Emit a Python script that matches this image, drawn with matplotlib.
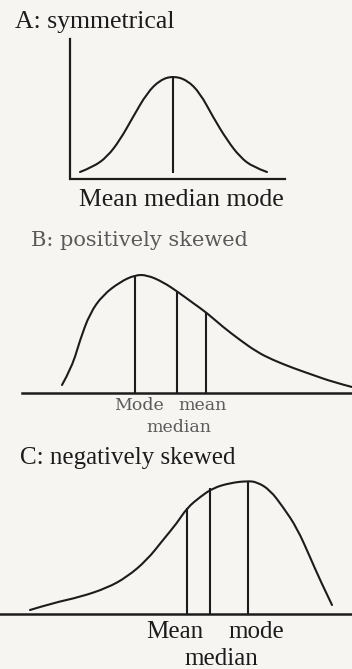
"""
Three sketches of a distribution: symmetrical, positively skewed, negatively skewed.
The canvas uses pixel-like units (x to the right, y downwards).
"""

import numpy as np
import matplotlib
matplotlib.use("Agg")
import matplotlib.pyplot as plt
from matplotlib.path import Path
from matplotlib.patches import PathPatch

plt.rcParams["font.family"] = ["Liberation Serif", "DejaVu Serif"]

# ================================================================
# 1. data
# ================================================================
# A: symmetrical
a_x = [80, 93, 107, 120, 133, 147, 160, 173, 187, 200, 213, 227, 240, 253, 267]
a_y = [172, 167, 157, 140, 117, 93, 80, 76, 80, 93, 117, 140, 157, 167, 172]
a_marks = [173]            # mean = median = mode
a_mark_top = [76]
a_label = "Mean median mode"

# B: positively skewed
b_x = [62, 72, 80, 90, 103, 120, 135, 147, 163, 178, 193, 207, 223, 240,
       257, 273, 293, 313, 333, 352]
b_y = [385, 367, 340, 313, 295, 282, 275, 275, 282, 292, 303, 313, 327, 340,
       352, 360, 368, 375, 382, 387]
b_marks = [135, 177, 206]  # mode, median, mean
b_mark_top = [275, 292, 312]
b_labels = ["Mode", "mean", "median"]

# C: negatively skewed
c_x = [30, 53, 80, 107, 127, 147, 163, 177, 187, 200, 213, 230, 247, 257,
       270, 283, 297, 310, 320, 332]
c_y = [610, 603, 597, 588, 577, 560, 540, 523, 508, 497, 488, 483, 481, 482,
       490, 507, 528, 557, 580, 605]
c_marks = [187, 210, 248]  # mean, median, mode
c_mark_top = [508, 488, 481]
c_labels = ["Mean", "mode", "median"]

titles = ["A: symmetrical", "B: positively skewed", "C: negatively skewed"]

# ================================================================
# 2. drawing
# ================================================================
ink = "#1c1c1c"
grey = "#5a5a5a"


def smooth_curve(ax, xs, ys, **kw):
    # quadratic bezier path: the read points act as control points
    pts = np.column_stack([xs, ys]).astype(float)
    verts = [pts[0]]
    codes = [Path.MOVETO]
    for i in range(1, len(pts) - 1):
        end = pts[i + 1] if i == len(pts) - 2 else (pts[i] + pts[i + 1]) / 2
        verts += [pts[i], end]
        codes += [Path.CURVE3, Path.CURVE3]
    ax.add_patch(PathPatch(Path(verts, codes), fill=False, capstyle="round", **kw))


fig = plt.figure(figsize=(3.52, 6.69), dpi=100, facecolor="#f6f5f1")
ax = fig.add_axes([0, 0, 1, 1])
ax.set_xlim(0, 352)
ax.set_ylim(669, 0)
ax.axis("off")

# ---- A ----
ax.text(15, 22, titles[0], fontsize=18.5, color=ink, va="center", ha="left")
ax.plot([70, 70, 285], [39, 179, 179], color=ink, lw=1.6, solid_joinstyle="miter")
smooth_curve(ax, a_x, a_y, edgecolor=ink, lw=1.5)
ax.vlines(a_marks, a_mark_top, 173, color=ink, lw=1.5)
ax.text(181, 200, a_label, fontsize=18.5, color=ink, ha="center", va="center")

# ---- B ----
ax.text(31, 241, titles[1], fontsize=15, color=grey, va="center", ha="left",
        family=["DejaVu Serif"])
ax.plot([22, 352], [393, 393], color=ink, lw=1.8)
smooth_curve(ax, b_x, b_y, edgecolor=ink, lw=1.5)
ax.vlines(b_marks, b_mark_top, 393, color=ink, lw=1.5)
ax.text(139, 405, b_labels[0], fontsize=12.5, color=grey, ha="center", va="center",
        family=["DejaVu Serif"])
ax.text(203, 405, b_labels[1], fontsize=12.5, color=grey, ha="center", va="center",
        family=["DejaVu Serif"])
ax.text(179, 428, b_labels[2], fontsize=12.5, color=grey, ha="center", va="center",
        family=["DejaVu Serif"])

# ---- C ----
ax.text(20, 458, titles[2], fontsize=18, color=ink, va="center", ha="left")
ax.plot([0, 352], [614, 614], color=ink, lw=1.8)
smooth_curve(ax, c_x, c_y, edgecolor=ink, lw=1.5)
ax.vlines(c_marks, c_mark_top, 614, color=ink, lw=1.5)
ax.text(175, 632, c_labels[0], fontsize=18, color=ink, ha="center", va="center")
ax.text(256, 632, c_labels[1], fontsize=18, color=ink, ha="center", va="center")
ax.text(221, 659, c_labels[2], fontsize=18, color=ink, ha="center", va="center")

fig.savefig("out.png", dpi=100, facecolor=fig.get_facecolor())
plt.close(fig)
